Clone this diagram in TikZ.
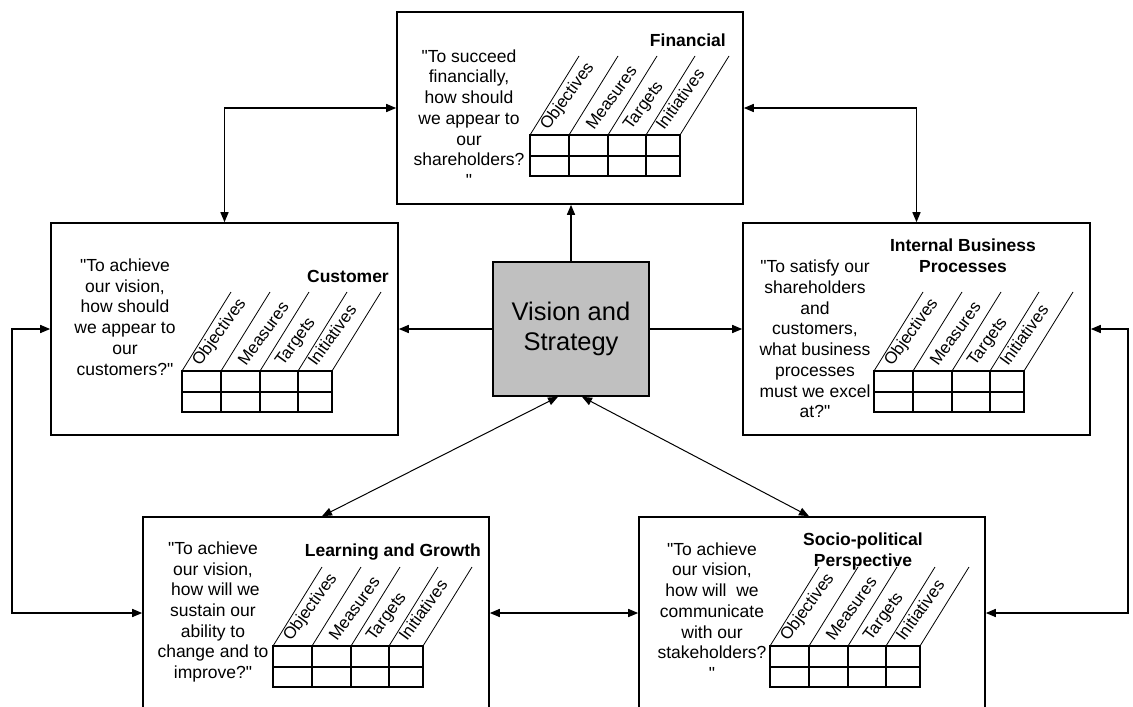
\documentclass[tikz,border=0pt]{standalone}
\usepackage{fontspec}
\setmainfont{Liberation Sans}
\newfontfamily\qfont{Liberation Sans}
\usetikzlibrary{arrows.meta}
\newcommand\bsctab[3]{%
  \foreach \dx in {0,39,78,116,150} {\draw[diagline] (#1+\dx,#2) -- ++(49,-79);}
  \draw[tabline] (#1,#2) rectangle (#1+150,#2+41);
  \draw[tabline] (#1,#2+21) -- (#1+150,#2+21);
  \foreach \dx in {39,78,116} {\draw[tabline] (#1+\dx,#2) -- (#1+\dx,#2+41);}
  \node[collab] (#3-o) at (#1+18,#2-4) {Objectives};
  \node[collab] (#3-m) at (#1+39+25,#2-4) {Measures};
  \node[collab] (#3-t) at (#1+78+23,#2-4) {Targets};
  \node[collab] (#3-i) at (#1+116+18,#2-4) {Initiatives};
}
\tikzset{
  persp/.style={draw=black, line width=1.6pt, fill=white, inner sep=0pt},
  tabline/.style={line width=1.5pt},
  diagline/.style={line width=0.8pt},
  collab/.style={rotate=54, anchor=base west, inner sep=0pt, font=\qfont\fontsize{16.8}{18}\selectfont},
  quest/.style={align=center, inner sep=0pt, font=\qfont\fontsize{17.5}{20.7}\selectfont},
  ttl/.style={align=center, inner sep=0pt, font=\qfont\bfseries\fontsize{17.5}{21}\selectfont},
  conn/.style={line width=1.5pt, {Triangle[length=10pt,width=8pt]}-{Triangle[length=10pt,width=8pt]}},
  conn1/.style={line width=1.5pt, -{Triangle[length=10pt,width=8pt]}},
  dconn/.style={line width=1pt, {Triangle[length=10pt,width=8pt]}-{Triangle[length=10pt,width=8pt]}},
}
\begin{document}
\begin{tikzpicture}[x=1pt,y=-1pt]
\useasboundingbox (0,0) rectangle (1133,707);
\fill[white] (0,0) rectangle (1133,707);
\clip (0,0) rectangle (1133,707);

% perspective boxes
\node[persp, minimum width=346, minimum height=192] (fin) at (570,108) {};
\node[persp, minimum width=347, minimum height=212] (cust) at (224.5,329) {};
\node[persp, minimum width=347, minimum height=212] (int) at (916.5,329) {};
\node[persp, minimum width=346, minimum height=192] (learn) at (316,613) {};
\node[persp, minimum width=346, minimum height=192] (socio) at (812,613) {};
\node[draw=black, line width=1.6pt, fill={rgb,255:red,192;green,192;blue,192}, minimum width=156, minimum height=134, align=center, font=\qfont\fontsize{25.5}{30}\selectfont] (vis) at (571,329) {Vision and\\Strategy};

% tables
\bsctab{530}{135}{ft}
\bsctab{182}{371}{ct}
\bsctab{874}{371}{it}
\bsctab{273}{646}{lt}
\bsctab{770}{646}{st}

% titles
\node[ttl, anchor=east] (fint) at (726,40) {Financial};
\node[ttl, anchor=east] (custt) at (389,276) {Customer};
\node[ttl] (intt) at (963,256) {Internal Business\\Processes};
\node[ttl, anchor=east] (learnt) at (481,552) {Learning and Growth};
\node[ttl] (sociot) at (863,551) {Socio-political\\Perspective};

% questions
\node[quest] (finq) at (469,118) {"To succeed\\financially,\\how should\\we appear to\\our\\shareholders?\\"};
\node[quest] (custq) at (125,317) {"To achieve\\our vision,\\how should\\we appear to\\our\\customers?"};
\node[quest] (intq) at (815,339) {"To satisfy our\\shareholders\\and\\customers,\\what business\\processes\\must we excel\\at?"};
\node[quest] (learnq) at (213,612) {"To achieve\\our vision,\\\ how will we\\sustain our\\ability to\\change and to\\improve?"};
\node[quest] (socioq) at (712,611) {"To achieve\\our vision,\\how will\ \ we\\communicate\\with our\\stakeholders?\\"};

% connectors
\coordinate (lx) at (12,0);
\coordinate (rx) at (1128,0);
\draw[conn1] (vis.north) -- (vis.north |- fin.south);
\draw[conn1] (vis.west) -- (cust.east);
\draw[conn1] (vis.east) -- (int.west);
\draw[conn] (fin.west) -| (cust.north);
\draw[conn] (fin.east) -| (int.north);
\draw[conn] (cust.west) -- (cust.west -| lx) |- (learn.west);
\draw[conn] (int.east) -- (int.east -| rx) |- (socio.east);
\draw[conn] (learn.east) -- (socio.west);
\draw[dconn] ([xshift=-13pt]vis.south) -- ([xshift=6pt]learn.north);
\draw[dconn] ([xshift=11pt]vis.south) -- ([xshift=-3pt]socio.north);
\end{tikzpicture}
\end{document}
